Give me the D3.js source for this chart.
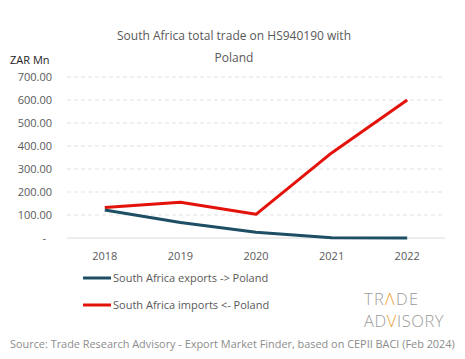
<!DOCTYPE html>
<html><head><meta charset="utf-8">
<script src="https://cdn.jsdelivr.net/npm/d3@7"></script>
<style>body{margin:0;background:#fff}svg{display:block}text{font-family:"Open Sans","Noto Sans",sans-serif}</style>
</head><body>
<svg id="c" width="465" height="359"></svg>
<script>
const years = ["2018","2019","2020","2021","2022"];
const exportsPL = [122, 67, 25, 1, 0];
const importsPL = [133, 155, 103, 370, 600];
const yTicks = [0,100,200,300,400,500,600,700];
const seriesNames = ["South Africa exports -> Poland","South Africa imports <- Poland"];
const seriesColors = ["#1d4e63","#e3120b"];

const svg = d3.select("#c");
const x = d3.scaleBand().domain(years).range([67,445]);
const y = d3.scaleLinear().domain([0,700]).range([238,77]);
const grey = "#595959";

svg.append("text").attr("x",234).attr("y",40).attr("text-anchor","middle")
  .attr("font-size",12).attr("fill",grey).text("South Africa total trade on HS940190 with");
svg.append("text").attr("x",234).attr("y",62).attr("text-anchor","middle")
  .attr("font-size",12).attr("fill",grey).text("Poland");
svg.append("text").attr("x",10).attr("y",64).attr("font-size",11).attr("fill","#222").text("ZAR Mn");

// gridlines
svg.append("g").selectAll("line").data(yTicks.filter(d=>d>0)).join("line")
  .attr("x1",67).attr("x2",445).attr("y1",d=>y(d)).attr("y2",d=>y(d))
  .attr("stroke","#d9d9d9").attr("stroke-dasharray","4,3").attr("stroke-width",0.8);

const yAxis = svg.append("g").attr("transform","translate(52,0)")
  .call(d3.axisLeft(y).tickValues(yTicks).tickSize(0).tickPadding(0)
    .tickFormat(d=>d===0?"-":d3.format(".2f")(d)));
yAxis.select(".domain").remove();
yAxis.selectAll("text").attr("font-size",11).attr("fill",grey)
  .attr("font-family","'Open Sans','Noto Sans',sans-serif");
yAxis.selectAll("text").filter(d=>d===0).attr("dx",-6);

svg.append("line").attr("x1",67).attr("x2",445).attr("y1",y(0)).attr("y2",y(0))
  .attr("stroke","#d9d9d9").attr("stroke-width",1);

const xAxis = svg.append("g").attr("transform","translate(0,"+y(0)+")")
  .call(d3.axisBottom(x).tickSize(0).tickPadding(14));
xAxis.select(".domain").remove();
xAxis.selectAll("text").attr("font-size",11).attr("fill",grey)
  .attr("font-family","'Open Sans','Noto Sans',sans-serif");

const line = d3.line().x((d,i)=>x(years[i])+x.bandwidth()/2).y(d=>y(d));
[exportsPL, importsPL].forEach((s,k)=>{
  svg.append("path").datum(s).attr("d",line).attr("fill","none")
    .attr("stroke",seriesColors[k]).attr("stroke-width",3).attr("stroke-linejoin","round");
});

seriesNames.forEach((n,k)=>{
  const yy = 278 + k*27;
  svg.append("line").attr("x1",83).attr("x2",111).attr("y1",yy).attr("y2",yy)
    .attr("stroke",seriesColors[k]).attr("stroke-width",3);
  svg.append("text").attr("x",113).attr("y",yy+4).attr("font-size",11).attr("fill",grey).text(n);
});

// logo
const logo = svg.append("g").attr("font-family","Roboto,sans-serif").attr("font-weight",300).attr("fill","#9a9a9a");
const t1 = logo.append("text").attr("x",364).attr("y",305).attr("font-size",16.5).attr("letter-spacing",1.3);
t1.append("tspan").text("TR");
t1.append("tspan").attr("fill","#f0a030").text("Λ");
t1.append("tspan").text("DE");
const t2 = logo.append("text").attr("x",364).attr("y",327).attr("font-size",16.5).attr("letter-spacing",0.6);
t2.append("tspan").text("AD");
t2.append("tspan").attr("fill","#f0a030").text("V");
t2.append("tspan").text("ISORY");

svg.append("text").attr("x",10).attr("y",348).attr("font-size",10.9).attr("fill","#8c8c8c")
  .text("Source: Trade Research Advisory - Export Market Finder, based on CEPII BACI (Feb 2024)");
</script>
</body></html>
